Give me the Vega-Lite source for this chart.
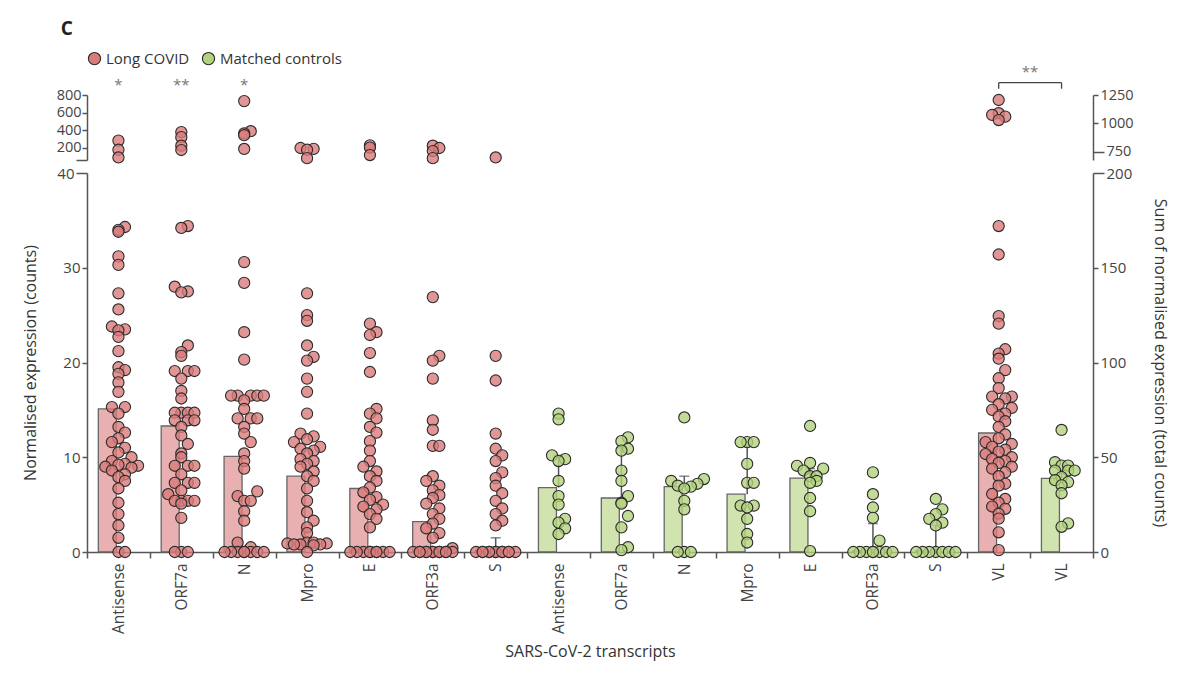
{
  "$schema": "https://vega.github.io/schema/vega-lite/v6.json",
  "padding": {"left": 22, "right": 10, "top": 20, "bottom": 5},
  "background": "white",
  "title": {"text": "C", "anchor": "start", "fontSize": 19, "fontWeight": "bold", "font": "Open Sans", "color": "#222", "dx": 38, "offset": 12},
  "config": {
    "font": "Open Sans",
    "view": {"stroke": null},
    "axis": {"domainColor": "#555", "tickColor": "#555", "domainWidth": 1.5, "tickWidth": 1.5, "labelColor": "#444", "labelFontSize": 15, "titleFontSize": 16, "titleFontWeight": "normal", "titleColor": "#333", "grid": false}
  },
  "spacing": 0,
  "resolve": {"scale": {"x": "shared", "y": "independent"}},
  "datasets": {
    "sig": [{"c": "Antisense|LC", "t": "*"}, {"c": "ORF7a|LC", "t": "**"}, {"c": "N|LC", "t": "*"}],
    "brk": [{"c": "VL|LC"}, {"c": "VL|C"}],
    "bars": [
      {"c": "Antisense|LC", "m": 15.1}, {"c": "ORF7a|LC", "m": 13.3}, {"c": "N|LC", "m": 10.1}, {"c": "Mpro|LC", "m": 8.0},
      {"c": "E|LC", "m": 6.7}, {"c": "ORF3a|LC", "m": 3.2}, {"c": "S|LC", "m": 0.15, "hi": 1.5},
      {"c": "Antisense|C", "m": 6.8, "hi": 10.2}, {"c": "ORF7a|C", "m": 5.7, "hi": 11.0}, {"c": "N|C", "m": 6.9, "hi": 8.0},
      {"c": "Mpro|C", "m": 6.1, "hi": 11.2}, {"c": "E|C", "m": 7.8, "hi": 8.8}, {"c": "ORF3a|C", "m": 0.15, "hi": 3.0},
      {"c": "S|C", "m": 0.1, "hi": 2.8}, {"c": "VL|LC", "m": 62.8}, {"c": "VL|C", "m": 38.8, "hi": 43.5}
    ],
    "pts": [
      {"c":"Antisense|LC","v":34.3},{"c":"Antisense|LC","v":34.0},{"c":"Antisense|LC","v":33.8},{"c":"Antisense|LC","v":31.2},{"c":"Antisense|LC","v":30.3},{"c":"Antisense|LC","v":27.3},{"c":"Antisense|LC","v":25.6},{"c":"Antisense|LC","v":23.8},{"c":"Antisense|LC","v":23.5},{"c":"Antisense|LC","v":23.4},{"c":"Antisense|LC","v":22.7},{"c":"Antisense|LC","v":21.2},{"c":"Antisense|LC","v":19.5},{"c":"Antisense|LC","v":19.2},{"c":"Antisense|LC","v":18.8},{"c":"Antisense|LC","v":17.9},{"c":"Antisense|LC","v":16.9},{"c":"Antisense|LC","v":15.3},{"c":"Antisense|LC","v":15.3},{"c":"Antisense|LC","v":14.6},{"c":"Antisense|LC","v":13.2},{"c":"Antisense|LC","v":12.6},{"c":"Antisense|LC","v":12.0},{"c":"Antisense|LC","v":11.6},{"c":"Antisense|LC","v":11.0},{"c":"Antisense|LC","v":10.5},{"c":"Antisense|LC","v":10.0},{"c":"Antisense|LC","v":9.6},{"c":"Antisense|LC","v":9.3},{"c":"Antisense|LC","v":9.2},{"c":"Antisense|LC","v":9.1},{"c":"Antisense|LC","v":9.0},{"c":"Antisense|LC","v":8.9},{"c":"Antisense|LC","v":8.6},{"c":"Antisense|LC","v":8.2},{"c":"Antisense|LC","v":7.9},{"c":"Antisense|LC","v":7.5},{"c":"Antisense|LC","v":6.7},{"c":"Antisense|LC","v":5.2},{"c":"Antisense|LC","v":4.0},{"c":"Antisense|LC","v":2.8},{"c":"Antisense|LC","v":1.5},{"c":"Antisense|LC","v":0},{"c":"Antisense|LC","v":0},{"c":"Antisense|LC","v":284},{"c":"Antisense|LC","v":180},{"c":"Antisense|LC","v":93},
      {"c":"ORF7a|LC","v":34.4},{"c":"ORF7a|LC","v":34.2},{"c":"ORF7a|LC","v":28.0},{"c":"ORF7a|LC","v":27.5},{"c":"ORF7a|LC","v":27.4},{"c":"ORF7a|LC","v":21.8},{"c":"ORF7a|LC","v":21.1},{"c":"ORF7a|LC","v":20.7},{"c":"ORF7a|LC","v":19.1},{"c":"ORF7a|LC","v":19.1},{"c":"ORF7a|LC","v":19.1},{"c":"ORF7a|LC","v":18.3},{"c":"ORF7a|LC","v":17.0},{"c":"ORF7a|LC","v":16.2},{"c":"ORF7a|LC","v":14.7},{"c":"ORF7a|LC","v":14.7},{"c":"ORF7a|LC","v":14.7},{"c":"ORF7a|LC","v":14.7},{"c":"ORF7a|LC","v":13.9},{"c":"ORF7a|LC","v":13.9},{"c":"ORF7a|LC","v":13.9},{"c":"ORF7a|LC","v":13.2},{"c":"ORF7a|LC","v":12.3},{"c":"ORF7a|LC","v":11.4},{"c":"ORF7a|LC","v":10.4},{"c":"ORF7a|LC","v":10.0},{"c":"ORF7a|LC","v":9.1},{"c":"ORF7a|LC","v":9.1},{"c":"ORF7a|LC","v":9.1},{"c":"ORF7a|LC","v":8.2},{"c":"ORF7a|LC","v":7.3},{"c":"ORF7a|LC","v":7.3},{"c":"ORF7a|LC","v":7.3},{"c":"ORF7a|LC","v":6.5},{"c":"ORF7a|LC","v":6.1},{"c":"ORF7a|LC","v":5.4},{"c":"ORF7a|LC","v":5.4},{"c":"ORF7a|LC","v":5.4},{"c":"ORF7a|LC","v":5.4},{"c":"ORF7a|LC","v":5.1},{"c":"ORF7a|LC","v":3.6},{"c":"ORF7a|LC","v":0},{"c":"ORF7a|LC","v":0},{"c":"ORF7a|LC","v":0},{"c":"ORF7a|LC","v":380},{"c":"ORF7a|LC","v":323},{"c":"ORF7a|LC","v":226},{"c":"ORF7a|LC","v":177},
      {"c":"N|LC","v":30.6},{"c":"N|LC","v":28.4},{"c":"N|LC","v":23.2},{"c":"N|LC","v":20.3},{"c":"N|LC","v":16.5},{"c":"N|LC","v":16.5},{"c":"N|LC","v":16.5},{"c":"N|LC","v":16.5},{"c":"N|LC","v":16.5},{"c":"N|LC","v":16.0},{"c":"N|LC","v":15.1},{"c":"N|LC","v":14.1},{"c":"N|LC","v":14.1},{"c":"N|LC","v":14.1},{"c":"N|LC","v":13.2},{"c":"N|LC","v":12.5},{"c":"N|LC","v":11.6},{"c":"N|LC","v":10.4},{"c":"N|LC","v":9.6},{"c":"N|LC","v":8.8},{"c":"N|LC","v":6.4},{"c":"N|LC","v":5.9},{"c":"N|LC","v":5.4},{"c":"N|LC","v":5.4},{"c":"N|LC","v":4.3},{"c":"N|LC","v":3.3},{"c":"N|LC","v":1.0},{"c":"N|LC","v":0.5},{"c":"N|LC","v":0},{"c":"N|LC","v":0},{"c":"N|LC","v":0},{"c":"N|LC","v":0},{"c":"N|LC","v":0},{"c":"N|LC","v":0},{"c":"N|LC","v":0},{"c":"N|LC","v":0},{"c":"N|LC","v":731},{"c":"N|LC","v":390},{"c":"N|LC","v":365},{"c":"N|LC","v":345},{"c":"N|LC","v":189},
      {"c":"Mpro|LC","v":27.3},{"c":"Mpro|LC","v":25.0},{"c":"Mpro|LC","v":24.4},{"c":"Mpro|LC","v":21.8},{"c":"Mpro|LC","v":20.6},{"c":"Mpro|LC","v":20.2},{"c":"Mpro|LC","v":18.3},{"c":"Mpro|LC","v":16.9},{"c":"Mpro|LC","v":14.6},{"c":"Mpro|LC","v":12.5},{"c":"Mpro|LC","v":12.2},{"c":"Mpro|LC","v":11.9},{"c":"Mpro|LC","v":11.6},{"c":"Mpro|LC","v":11.1},{"c":"Mpro|LC","v":10.9},{"c":"Mpro|LC","v":10.7},{"c":"Mpro|LC","v":10.4},{"c":"Mpro|LC","v":9.8},{"c":"Mpro|LC","v":9.6},{"c":"Mpro|LC","v":9.3},{"c":"Mpro|LC","v":9.0},{"c":"Mpro|LC","v":8.5},{"c":"Mpro|LC","v":8.0},{"c":"Mpro|LC","v":7.5},{"c":"Mpro|LC","v":6.7},{"c":"Mpro|LC","v":5.4},{"c":"Mpro|LC","v":4.2},{"c":"Mpro|LC","v":3.3},{"c":"Mpro|LC","v":2.6},{"c":"Mpro|LC","v":2.0},{"c":"Mpro|LC","v":1.0},{"c":"Mpro|LC","v":1.0},{"c":"Mpro|LC","v":0.9},{"c":"Mpro|LC","v":0.9},{"c":"Mpro|LC","v":0.8},{"c":"Mpro|LC","v":0.8},{"c":"Mpro|LC","v":0.8},{"c":"Mpro|LC","v":0.7},{"c":"Mpro|LC","v":0},{"c":"Mpro|LC","v":200},{"c":"Mpro|LC","v":190},{"c":"Mpro|LC","v":180},{"c":"Mpro|LC","v":85},
      {"c":"E|LC","v":24.1},{"c":"E|LC","v":23.2},{"c":"E|LC","v":22.9},{"c":"E|LC","v":21.0},{"c":"E|LC","v":19.0},{"c":"E|LC","v":15.1},{"c":"E|LC","v":14.6},{"c":"E|LC","v":14.1},{"c":"E|LC","v":13.2},{"c":"E|LC","v":12.6},{"c":"E|LC","v":11.7},{"c":"E|LC","v":10.7},{"c":"E|LC","v":9.6},{"c":"E|LC","v":9.0},{"c":"E|LC","v":8.5},{"c":"E|LC","v":8.0},{"c":"E|LC","v":7.5},{"c":"E|LC","v":6.8},{"c":"E|LC","v":6.3},{"c":"E|LC","v":5.8},{"c":"E|LC","v":5.5},{"c":"E|LC","v":5.0},{"c":"E|LC","v":4.8},{"c":"E|LC","v":4.5},{"c":"E|LC","v":4.0},{"c":"E|LC","v":3.5},{"c":"E|LC","v":2.6},{"c":"E|LC","v":0},{"c":"E|LC","v":0},{"c":"E|LC","v":0},{"c":"E|LC","v":0},{"c":"E|LC","v":0},{"c":"E|LC","v":0},{"c":"E|LC","v":0},{"c":"E|LC","v":0},{"c":"E|LC","v":0},{"c":"E|LC","v":230},{"c":"E|LC","v":205},{"c":"E|LC","v":120},
      {"c":"ORF3a|LC","v":26.9},{"c":"ORF3a|LC","v":20.7},{"c":"ORF3a|LC","v":20.2},{"c":"ORF3a|LC","v":18.3},{"c":"ORF3a|LC","v":13.9},{"c":"ORF3a|LC","v":12.9},{"c":"ORF3a|LC","v":11.2},{"c":"ORF3a|LC","v":11.2},{"c":"ORF3a|LC","v":8.0},{"c":"ORF3a|LC","v":7.5},{"c":"ORF3a|LC","v":7.0},{"c":"ORF3a|LC","v":6.5},{"c":"ORF3a|LC","v":6.0},{"c":"ORF3a|LC","v":5.7},{"c":"ORF3a|LC","v":5.1},{"c":"ORF3a|LC","v":4.6},{"c":"ORF3a|LC","v":4.0},{"c":"ORF3a|LC","v":3.5},{"c":"ORF3a|LC","v":3.0},{"c":"ORF3a|LC","v":2.5},{"c":"ORF3a|LC","v":2.0},{"c":"ORF3a|LC","v":1.5},{"c":"ORF3a|LC","v":0.4},{"c":"ORF3a|LC","v":0},{"c":"ORF3a|LC","v":0},{"c":"ORF3a|LC","v":0},{"c":"ORF3a|LC","v":0},{"c":"ORF3a|LC","v":0},{"c":"ORF3a|LC","v":0},{"c":"ORF3a|LC","v":0},{"c":"ORF3a|LC","v":0},{"c":"ORF3a|LC","v":0},{"c":"ORF3a|LC","v":0},{"c":"ORF3a|LC","v":0},{"c":"ORF3a|LC","v":0},{"c":"ORF3a|LC","v":226},{"c":"ORF3a|LC","v":200},{"c":"ORF3a|LC","v":165},{"c":"ORF3a|LC","v":85},
      {"c":"S|LC","v":20.7},{"c":"S|LC","v":18.1},{"c":"S|LC","v":12.5},{"c":"S|LC","v":10.9},{"c":"S|LC","v":10.2},{"c":"S|LC","v":9.6},{"c":"S|LC","v":8.4},{"c":"S|LC","v":7.8},{"c":"S|LC","v":7.0},{"c":"S|LC","v":6.2},{"c":"S|LC","v":5.4},{"c":"S|LC","v":4.6},{"c":"S|LC","v":4.0},{"c":"S|LC","v":3.3},{"c":"S|LC","v":2.8},{"c":"S|LC","v":0},{"c":"S|LC","v":0},{"c":"S|LC","v":0},{"c":"S|LC","v":0},{"c":"S|LC","v":0},{"c":"S|LC","v":0},{"c":"S|LC","v":0},{"c":"S|LC","v":0},{"c":"S|LC","v":0},{"c":"S|LC","v":0},{"c":"S|LC","v":0},{"c":"S|LC","v":0},{"c":"S|LC","v":93},
      {"c":"Antisense|C","v":14.6},{"c":"Antisense|C","v":14.0},{"c":"Antisense|C","v":10.2},{"c":"Antisense|C","v":9.8},{"c":"Antisense|C","v":9.6},{"c":"Antisense|C","v":7.5},{"c":"Antisense|C","v":5.9},{"c":"Antisense|C","v":5.0},{"c":"Antisense|C","v":3.5},{"c":"Antisense|C","v":3.1},{"c":"Antisense|C","v":2.5},{"c":"Antisense|C","v":1.9},
      {"c":"ORF7a|C","v":12.1},{"c":"ORF7a|C","v":11.7},{"c":"ORF7a|C","v":10.9},{"c":"ORF7a|C","v":10.7},{"c":"ORF7a|C","v":8.6},{"c":"ORF7a|C","v":7.5},{"c":"ORF7a|C","v":5.9},{"c":"ORF7a|C","v":5.2},{"c":"ORF7a|C","v":5.1},{"c":"ORF7a|C","v":3.8},{"c":"ORF7a|C","v":2.6},{"c":"ORF7a|C","v":0.5},{"c":"ORF7a|C","v":0.2},
      {"c":"N|C","v":14.2},{"c":"N|C","v":7.7},{"c":"N|C","v":7.5},{"c":"N|C","v":7.2},{"c":"N|C","v":7.0},{"c":"N|C","v":6.9},{"c":"N|C","v":6.7},{"c":"N|C","v":5.4},{"c":"N|C","v":4.5},{"c":"N|C","v":0},{"c":"N|C","v":0},{"c":"N|C","v":0},
      {"c":"Mpro|C","v":11.6},{"c":"Mpro|C","v":11.6},{"c":"Mpro|C","v":11.6},{"c":"Mpro|C","v":9.3},{"c":"Mpro|C","v":7.3},{"c":"Mpro|C","v":7.3},{"c":"Mpro|C","v":4.9},{"c":"Mpro|C","v":4.9},{"c":"Mpro|C","v":4.7},{"c":"Mpro|C","v":3.5},{"c":"Mpro|C","v":1.9},{"c":"Mpro|C","v":1.0},
      {"c":"E|C","v":13.3},{"c":"E|C","v":9.4},{"c":"E|C","v":9.1},{"c":"E|C","v":8.8},{"c":"E|C","v":8.6},{"c":"E|C","v":8.0},{"c":"E|C","v":8.0},{"c":"E|C","v":7.5},{"c":"E|C","v":7.3},{"c":"E|C","v":5.7},{"c":"E|C","v":4.3},{"c":"E|C","v":0.1},
      {"c":"ORF3a|C","v":8.4},{"c":"ORF3a|C","v":6.1},{"c":"ORF3a|C","v":4.7},{"c":"ORF3a|C","v":3.6},{"c":"ORF3a|C","v":1.2},{"c":"ORF3a|C","v":0},{"c":"ORF3a|C","v":0},{"c":"ORF3a|C","v":0},{"c":"ORF3a|C","v":0},{"c":"ORF3a|C","v":0},{"c":"ORF3a|C","v":0},{"c":"ORF3a|C","v":0},{"c":"ORF3a|C","v":0},
      {"c":"S|C","v":5.6},{"c":"S|C","v":4.5},{"c":"S|C","v":4.0},{"c":"S|C","v":3.5},{"c":"S|C","v":3.1},{"c":"S|C","v":2.8},{"c":"S|C","v":0},{"c":"S|C","v":0},{"c":"S|C","v":0},{"c":"S|C","v":0},{"c":"S|C","v":0},{"c":"S|C","v":0},{"c":"S|C","v":0},
      {"c":"VL|LC","v":172},{"c":"VL|LC","v":157},{"c":"VL|LC","v":124.5},{"c":"VL|LC","v":120.5},{"c":"VL|LC","v":107},{"c":"VL|LC","v":104.7},{"c":"VL|LC","v":102},{"c":"VL|LC","v":96},{"c":"VL|LC","v":91.7},{"c":"VL|LC","v":86.5},{"c":"VL|LC","v":82},{"c":"VL|LC","v":82},{"c":"VL|LC","v":81},{"c":"VL|LC","v":78},{"c":"VL|LC","v":76},{"c":"VL|LC","v":75},{"c":"VL|LC","v":73},{"c":"VL|LC","v":71.5},{"c":"VL|LC","v":69},{"c":"VL|LC","v":66},{"c":"VL|LC","v":62},{"c":"VL|LC","v":60},{"c":"VL|LC","v":58},{"c":"VL|LC","v":57},{"c":"VL|LC","v":55.5},{"c":"VL|LC","v":54},{"c":"VL|LC","v":53},{"c":"VL|LC","v":51.7},{"c":"VL|LC","v":50},{"c":"VL|LC","v":49},{"c":"VL|LC","v":48},{"c":"VL|LC","v":47},{"c":"VL|LC","v":45},{"c":"VL|LC","v":44},{"c":"VL|LC","v":42},{"c":"VL|LC","v":40},{"c":"VL|LC","v":36},{"c":"VL|LC","v":35},{"c":"VL|LC","v":30.6},{"c":"VL|LC","v":28},{"c":"VL|LC","v":26},{"c":"VL|LC","v":24},{"c":"VL|LC","v":22.8},{"c":"VL|LC","v":20.2},{"c":"VL|LC","v":17.6},{"c":"VL|LC","v":10.4},{"c":"VL|LC","v":1},{"c":"VL|LC","v":1206},{"c":"VL|LC","v":1090},{"c":"VL|LC","v":1075},{"c":"VL|LC","v":1060},{"c":"VL|LC","v":1030},
      {"c":"VL|C","v":64.4},{"c":"VL|C","v":47.4},{"c":"VL|C","v":45.6},{"c":"VL|C","v":45.6},{"c":"VL|C","v":43},{"c":"VL|C","v":43},{"c":"VL|C","v":43},{"c":"VL|C","v":39.5},{"c":"VL|C","v":37.9},{"c":"VL|C","v":36.9},{"c":"VL|C","v":35.2},{"c":"VL|C","v":31},{"c":"VL|C","v":15.1},{"c":"VL|C","v":13.3}
    ]
  },
  "vconcat": [
    {
      "width": 1006,
      "height": 65,
      "resolve": {"scale": {"y": "independent"}},
      "layer": [
        {
          "data": {"name": "pts"},
          "transform": [
            {"filter": "indexof(datum.c, 'VL|') != 0 && datum.v > 40"},
            {"calculate": "indexof(datum.c, '|LC') > 0 ? 'Long COVID' : 'Matched controls'", "as": "g"},
            {"calculate": "floor(datum.v / 70)", "as": "b"},
            {"window": [{"op": "row_number", "as": "k"}], "groupby": ["c", "b"], "sort": [{"field": "v"}]},
            {"calculate": "(datum.k - 1) % 7", "as": "q"},
            {"calculate": "datum.q % 2 == 1 ? (datum.q + 1) / 2 : -datum.q / 2", "as": "j"}
          ],
          "mark": {"type": "circle", "size": 125, "opacity": 1, "fillOpacity": 0.8, "stroke": "#2b2b2b", "strokeWidth": 1.1},
          "encoding": {
            "x": {"field": "c", "type": "nominal", "scale": {"domain": ["Antisense|LC","ORF7a|LC","N|LC","Mpro|LC","E|LC","ORF3a|LC","S|LC","Antisense|C","ORF7a|C","N|C","Mpro|C","E|C","ORF3a|C","S|C","VL|LC","VL|C"], "paddingInner": 0, "paddingOuter": 0}, "axis": null},
            "xOffset": {"field": "j", "type": "quantitative", "scale": {"domain": [-4.8, 4.8]}},
            "y": {"field": "v", "type": "quantitative", "scale": {"domain": [64, 800]}, "axis": {"orient": "left", "values": [64, 200, 400, 600, 800], "labelExpr": "datum.value < 100 ? '' : datum.label", "labelFontSize": 14.5, "labelPadding": 1, "title": null, "tickSize": {"condition": {"test": "datum.value < 100", "value": 11}, "value": 5}}},
            "fill": {"field": "g", "type": "nominal", "scale": {"domain": ["Long COVID", "Matched controls"], "range": ["#d97b7b", "#b3d27c"]},
              "legend": {"orient": "none", "legendX": 0, "legendY": -44, "direction": "horizontal", "title": null, "symbolType": "circle", "symbolSize": 150, "symbolStrokeColor": "#2b2b2b", "symbolStrokeWidth": 1.1, "symbolOpacity": 1, "labelFontSize": 15, "labelColor": "#333", "columnPadding": 10}}
          }
        },
        {
          "data": {"name": "pts"},
          "transform": [
            {"filter": "indexof(datum.c, 'VL|') == 0 && datum.v > 200"},
            {"calculate": "indexof(datum.c, '|LC') > 0 ? 'Long COVID' : 'Matched controls'", "as": "g"},
            {"calculate": "floor(datum.v / 60)", "as": "b"},
            {"window": [{"op": "row_number", "as": "k"}], "groupby": ["c", "b"], "sort": [{"field": "v"}]},
            {"calculate": "(datum.k - 1) % 7", "as": "q"},
            {"calculate": "datum.q % 2 == 1 ? (datum.q + 1) / 2 : -datum.q / 2", "as": "j"}
          ],
          "mark": {"type": "circle", "size": 125, "opacity": 1, "fillOpacity": 0.8, "stroke": "#2b2b2b", "strokeWidth": 1.1},
          "encoding": {
            "x": {"field": "c", "type": "nominal", "axis": null},
            "xOffset": {"field": "j", "type": "quantitative", "scale": {"domain": [-4.8, 4.8]}},
            "y": {"field": "v", "type": "quantitative", "scale": {"domain": [679, 1250]}, "axis": {"orient": "right", "values": [750, 1000, 1250], "format": "d", "labelFontSize": 14.5, "title": null, "tickSize": {"condition": {"test": "datum.value == 750", "value": 11}, "value": 5}}},
            "fill": {"field": "g", "type": "nominal"}
          }
        },
        {
          "data": {"name": "sig"},
          "mark": {"type": "text", "fontSize": 15, "color": "#777", "baseline": "middle"},
          "encoding": {
            "x": {"field": "c", "type": "nominal", "axis": null},
            "y": {"datum": 918, "type": "quantitative", "scale": {"domain": [64, 800]}, "axis": null},
            "text": {"field": "t"}
          }
        },
        {
          "data": {"name": "brk"},
          "mark": {"type": "line", "color": "#444", "strokeWidth": 1.3},
          "encoding": {
            "x": {"field": "c", "type": "nominal", "axis": null},
            "y": {"datum": 1358, "type": "quantitative", "scale": {"domain": [679, 1250]}, "axis": null}
          }
        },
        {
          "data": {"name": "brk"},
          "mark": {"type": "rule", "color": "#444", "strokeWidth": 1.3},
          "encoding": {
            "x": {"field": "c", "type": "nominal", "axis": null},
            "y": {"datum": 1358, "type": "quantitative", "scale": {"domain": [679, 1250]}, "axis": null},
            "y2": {"datum": 1305}
          }
        },
        {
          "data": {"name": "brk"},
          "transform": [{"filter": "datum.c == 'VL|LC'"}],
          "mark": {"type": "text", "text": "**", "fontSize": 15, "color": "#777", "baseline": "middle"},
          "encoding": {
            "x": {"field": "c", "type": "nominal", "bandPosition": 1, "axis": null},
            "y": {"datum": 1450, "type": "quantitative", "scale": {"domain": [679, 1250]}, "axis": null}
          }
        }
      ]
    },
    {
      "width": 1006,
      "height": 379,
      "resolve": {"scale": {"y": "independent"}},
      "layer": [
        {
          "data": {"name": "bars"},
          "transform": [
            {"filter": "indexof(datum.c, 'VL|') != 0"},
            {"calculate": "indexof(datum.c, '|LC') > 0 ? 'Long COVID' : 'Matched controls'", "as": "g"}
          ],
          "mark": {"type": "bar", "width": {"band": 0.64}, "fillOpacity": 0.6, "stroke": "#666", "strokeWidth": 1.3},
          "encoding": {
            "x": {"field": "c", "type": "nominal", "scale": {"domain": ["Antisense|LC","ORF7a|LC","N|LC","Mpro|LC","E|LC","ORF3a|LC","S|LC","Antisense|C","ORF7a|C","N|C","Mpro|C","E|C","ORF3a|C","S|C","VL|LC","VL|C"], "paddingInner": 0, "paddingOuter": 0},
              "axis": {"title": "SARS-CoV-2 transcripts", "labelExpr": "split(datum.label, '|')[0]", "labelAngle": -90, "labelAlign": "right", "labelBaseline": "middle", "labelFontSize": 15.5, "labelPadding": 5, "tickSize": 6, "tickBand": "extent", "titlePadding": 10, "titleFontSize": 16}},
            "y": {"field": "m", "type": "quantitative", "scale": {"domain": [0, 40]}, "axis": {"orient": "left", "values": [0, 10, 20, 30, 40], "title": "Normalised expression (counts)", "titlePadding": 18, "tickSize": {"condition": {"test": "datum.value == 40", "value": 11}, "value": 5}}},
            "fill": {"field": "g", "type": "nominal"}
          }
        },
        {
          "data": {"name": "bars"},
          "transform": [{"filter": "indexof(datum.c, 'VL|') != 0 && isValid(datum.hi)"}],
          "mark": {"type": "rule", "color": "#555", "strokeWidth": 1.5},
          "encoding": {
            "x": {"field": "c", "type": "nominal"},
            "y": {"field": "m", "type": "quantitative", "scale": {"domain": [0, 40]}, "axis": null},
            "y2": {"field": "hi"}
          }
        },
        {
          "data": {"name": "bars"},
          "transform": [{"filter": "indexof(datum.c, 'VL|') != 0 && isValid(datum.hi)"}],
          "mark": {"type": "tick", "color": "#555", "size": 10, "thickness": 1.5},
          "encoding": {
            "x": {"field": "c", "type": "nominal"},
            "y": {"field": "hi", "type": "quantitative", "scale": {"domain": [0, 40]}, "axis": null}
          }
        },
        {
          "mark": {"type": "rule", "color": "#c93a5e", "strokeWidth": 1.5},
          "encoding": {
            "y": {"datum": 10, "type": "quantitative", "scale": {"domain": [0, 40]}, "axis": null}
          }
        },
        {
          "data": {"name": "pts"},
          "transform": [
            {"filter": "indexof(datum.c, 'VL|') != 0 && datum.v <= 40"},
            {"calculate": "indexof(datum.c, '|LC') > 0 ? 'Long COVID' : 'Matched controls'", "as": "g"},
            {"calculate": "floor(datum.v / 1.3)", "as": "b"},
            {"window": [{"op": "row_number", "as": "k"}], "groupby": ["c", "b"], "sort": [{"field": "v"}]},
            {"calculate": "(datum.k - 1) % 7", "as": "q"},
            {"calculate": "datum.q % 2 == 1 ? (datum.q + 1) / 2 : -datum.q / 2", "as": "j"}
          ],
          "mark": {"type": "circle", "size": 125, "opacity": 1, "fillOpacity": 0.8, "stroke": "#2b2b2b", "strokeWidth": 1.1},
          "encoding": {
            "x": {"field": "c", "type": "nominal"},
            "xOffset": {"field": "j", "type": "quantitative", "scale": {"domain": [-4.8, 4.8]}},
            "y": {"field": "v", "type": "quantitative", "scale": {"domain": [0, 40]}, "axis": null},
            "fill": {"field": "g", "type": "nominal"}
          }
        },
        {
          "data": {"name": "bars"},
          "transform": [
            {"filter": "indexof(datum.c, 'VL|') == 0"},
            {"calculate": "indexof(datum.c, '|LC') > 0 ? 'Long COVID' : 'Matched controls'", "as": "g"}
          ],
          "mark": {"type": "bar", "width": {"band": 0.64}, "fillOpacity": 0.6, "stroke": "#666", "strokeWidth": 1.3},
          "encoding": {
            "x": {"field": "c", "type": "nominal"},
            "y": {"field": "m", "type": "quantitative", "scale": {"domain": [0, 200]}, "axis": {"orient": "right", "values": [0, 50, 100, 150, 200], "title": "Sum of normalised expression (total counts)", "titlePadding": 20, "tickSize": {"condition": {"test": "datum.value == 200", "value": 11}, "value": 5}}},
            "fill": {"field": "g", "type": "nominal"}
          }
        },
        {
          "data": {"name": "bars"},
          "transform": [{"filter": "indexof(datum.c, 'VL|') == 0 && isValid(datum.hi)"}],
          "mark": {"type": "rule", "color": "#555", "strokeWidth": 1.5},
          "encoding": {
            "x": {"field": "c", "type": "nominal"},
            "y": {"field": "m", "type": "quantitative", "scale": {"domain": [0, 200]}, "axis": null},
            "y2": {"field": "hi"}
          }
        },
        {
          "data": {"name": "pts"},
          "transform": [
            {"filter": "indexof(datum.c, 'VL|') == 0 && datum.v <= 200"},
            {"calculate": "indexof(datum.c, '|LC') > 0 ? 'Long COVID' : 'Matched controls'", "as": "g"},
            {"calculate": "floor(datum.v / 6.5)", "as": "b"},
            {"window": [{"op": "row_number", "as": "k"}], "groupby": ["c", "b"], "sort": [{"field": "v"}]},
            {"calculate": "(datum.k - 1) % 7", "as": "q"},
            {"calculate": "datum.q % 2 == 1 ? (datum.q + 1) / 2 : -datum.q / 2", "as": "j"}
          ],
          "mark": {"type": "circle", "size": 125, "opacity": 1, "fillOpacity": 0.8, "stroke": "#2b2b2b", "strokeWidth": 1.1},
          "encoding": {
            "x": {"field": "c", "type": "nominal"},
            "xOffset": {"field": "j", "type": "quantitative", "scale": {"domain": [-4.8, 4.8]}},
            "y": {"field": "v", "type": "quantitative", "scale": {"domain": [0, 200]}, "axis": null},
            "fill": {"field": "g", "type": "nominal"}
          }
        }
      ]
    }
  ]
}
